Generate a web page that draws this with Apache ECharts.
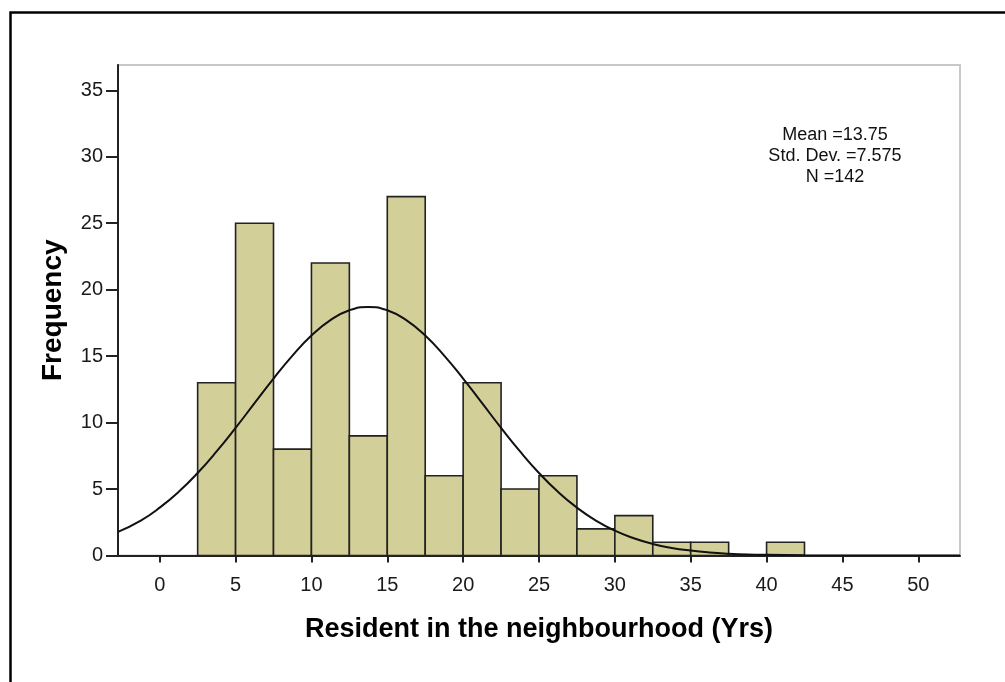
<!DOCTYPE html>
<html>
<head>
<meta charset="utf-8">
<script src="https://cdn.jsdelivr.net/npm/echarts@6/dist/echarts.min.js"></script>
<style>
html,body{margin:0;padding:0;background:#fff;}
#chart{width:1005px;height:682px;}
</style>
</head>
<body>
<div id="chart"></div>
<script>
// Histogram bins (lower edge, upper edge) and frequencies
var binStarts = [2.5, 5, 7.5, 10, 12.5, 15, 17.5, 20, 22.5, 25, 27.5, 30, 32.5, 35, 37.5, 40];
var binEnds   = [5, 7.5, 10, 12.5, 15, 17.5, 20, 22.5, 25, 27.5, 30, 32.5, 35, 37.5, 40, 42.5];
var frequencies = [13, 25, 8, 22, 9, 27, 6, 13, 5, 6, 2, 3, 1, 1, 0, 1];

// Normal curve points
var curveX = [-2.75, -1.25, 0, 1.25, 2.5, 3.75, 5, 6.25, 7.5, 8.75, 10, 11.25, 12.5, 13.75, 15, 16.25, 17.5, 18.75, 20, 21.25, 22.5, 23.75, 25, 26.25, 27.5, 28.75, 30, 31.25, 32.5, 33.75, 35, 36.25, 37.5, 38.75, 40, 42.5, 45, 52.75];
var curveY = [1.78, 2.63, 3.6, 4.79, 6.21, 7.83, 9.6, 11.46, 13.31, 15.04, 16.55, 17.71, 18.45, 18.7, 18.45, 17.71, 16.55, 15.04, 13.31, 11.46, 9.6, 7.83, 6.21, 4.79, 3.6, 2.63, 1.87, 1.3, 0.87, 0.57, 0.37, 0.23, 0.14, 0.08, 0.05, 0.015, 0.004, 0];

var xTicks = [0, 5, 10, 15, 20, 25, 30, 35, 40, 45, 50];
var yTicks = [0, 5, 10, 15, 20, 25, 30, 35];

var statsLines = ['Mean =13.75', 'Std. Dev. =7.575', 'N =142'];
var xTitle = 'Resident in the neighbourhood (Yrs)';
var yTitle = 'Frequency';

var histData = binStarts.map(function (s, i) { return [s, binEnds[i], frequencies[i]]; });
var curveData = curveX.map(function (x, i) { return [x, curveY[i]]; });

var chart = echarts.init(document.getElementById('chart'), null, {renderer: 'canvas'});
var FONT = '"Liberation Sans", Arial, sans-serif';

var option = {
  animation: false,
  backgroundColor: '#ffffff',
  grid: {
    left: 118, top: 65, right: 45, bottom: 126.5,
    show: true, borderColor: '#c8c8c8', borderWidth: 2, backgroundColor: '#ffffff'
  },
  xAxis: {
    type: 'value', min: -2.75, max: 52.75,
    name: xTitle, nameLocation: 'middle', nameGap: 61,
    nameTextStyle: {fontFamily: FONT, fontSize: 27, fontWeight: 'bold', color: '#000'},
    axisLine: {show: true, onZero: false, lineStyle: {color: '#222', width: 2}},
    axisTick: {show: true, length: 7, customValues: xTicks, lineStyle: {color: '#222', width: 2}},
    axisLabel: {customValues: xTicks, fontFamily: FONT, fontSize: 20, color: '#1a1a1a', margin: 20},
    splitLine: {show: false}
  },
  yAxis: {
    type: 'value', min: 0, max: 36.9,
    name: yTitle, nameLocation: 'middle', nameGap: 51,
    nameTextStyle: {fontFamily: FONT, fontSize: 28, fontWeight: 'bold', color: '#000'},
    axisLine: {show: true, onZero: false, lineStyle: {color: '#222', width: 2}},
    axisTick: {show: true, length: 12, customValues: yTicks, lineStyle: {color: '#222', width: 2}},
    axisLabel: {customValues: yTicks, fontFamily: FONT, fontSize: 20, color: '#1a1a1a', margin: 15},
    splitLine: {show: false}
  },
  series: [
    {
      type: 'custom',
      data: histData,
      renderItem: function (params, api) {
        var p0 = api.coord([api.value(0), api.value(2)]);
        var p1 = api.coord([api.value(1), 0]);
        return {
          type: 'rect',
          shape: {x: p0[0], y: p0[1], width: p1[0] - p0[0], height: p1[1] - p0[1]},
          style: {fill: '#d3cf98', stroke: '#222', lineWidth: 1.6}
        };
      },
      z: 2
    },
    {
      type: 'line',
      data: curveData,
      smooth: true,
      showSymbol: false,
      lineStyle: {color: '#111', width: 2},
      z: 3
    }
  ],
  graphic: [
    {
      type: 'rect', left: 8, top: 10,
      shape: {width: 1000, height: 700},
      style: {fill: 'none', stroke: '#000', lineWidth: 2.5},
      silent: true
    }
  ].concat(statsLines.map(function (t, i) {
    return {
      type: 'text', x: 835, y: 135 + i * 21,
      style: {text: t, align: 'center', verticalAlign: 'middle', fontFamily: FONT, fontSize: 18, fill: '#111'},
      z: 10
    };
  }))
};
chart.setOption(option);
</script>
</body>
</html>
